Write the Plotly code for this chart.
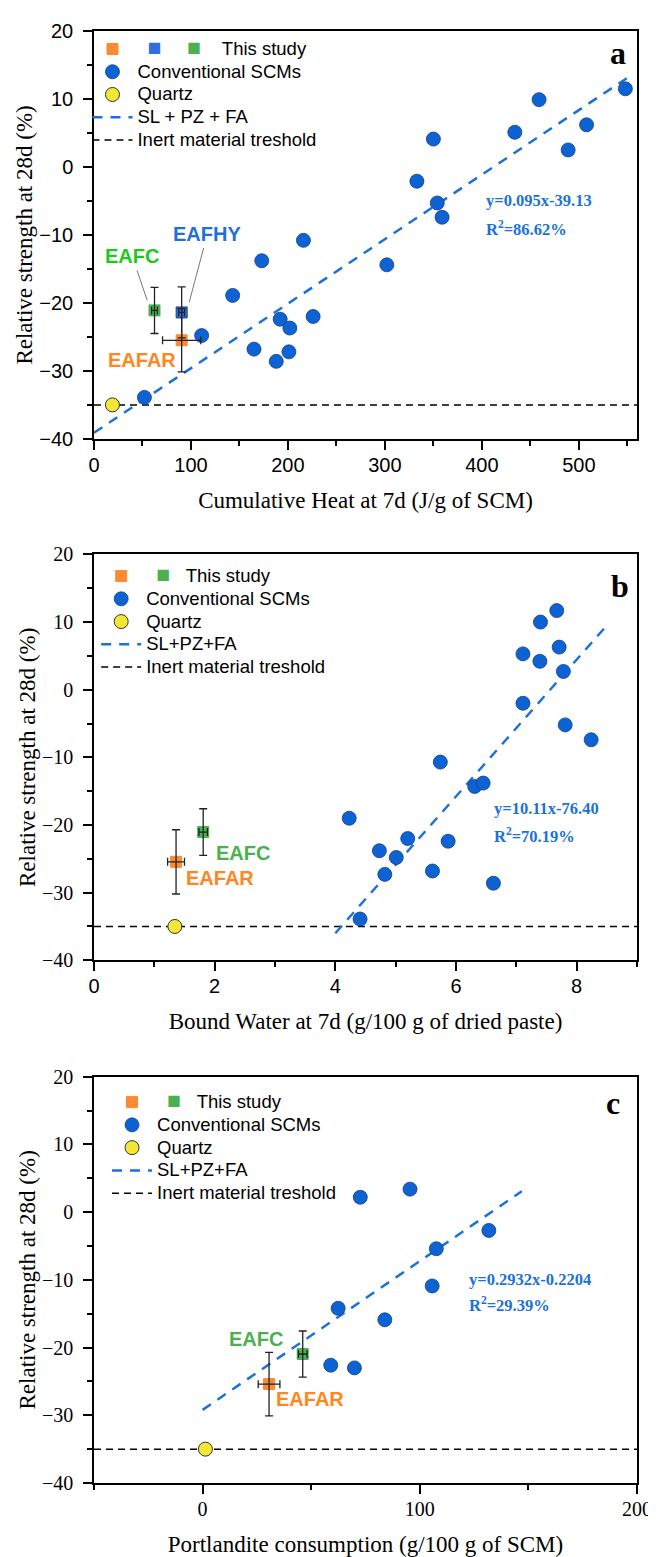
import plotly.graph_objects as go
from plotly.subplots import make_subplots

# ---- panel a : cumulative heat at 7d ----
heat_scm_x = [548, 459, 508, 434, 350, 489, 333, 354, 359, 216, 173, 302, 143, 192, 226, 202, 111, 165, 201, 188, 52]
heat_scm_y = [11.5, 9.9, 6.2, 5.1, 4.1, 2.5, -2.1, -5.3, -7.4, -10.8, -13.8, -14.4, -18.9, -22.4, -22.0, -23.7, -24.8, -26.8, -27.2, -28.6, -33.9]
heat_quartz_x = [19]
heat_quartz_y = [-35.0]
heat_study = ['EAFAR', 'EAFHY', 'EAFC']
heat_study_x = [90.4, 90.4, 62.4]
heat_study_y = [-25.5, -21.4, -21.1]
heat_study_xerr = [19.7, 3.0, 3.0]
heat_study_yerr = [4.65, 3.75, 3.4]
heat_fit_x = [0, 552]
heat_fit_y = [-39.1, 13.3]

# ---- panel b : bound water at 7d ----
water_scm_x = [7.67, 7.40, 7.71, 7.11, 7.39, 7.78, 7.11, 7.81, 8.24, 5.74, 6.31, 6.45,
               4.23, 5.20, 5.87, 4.73, 5.01, 5.61, 4.82, 6.62, 4.41]
water_scm_y = [11.7, 10.0, 6.3, 5.3, 4.2, 2.7, -2.0, -5.2, -7.4, -10.7, -14.3, -13.8,
               -19.0, -22.0, -22.4, -23.8, -24.8, -26.8, -27.3, -28.6, -33.9]
water_quartz_x = [1.34]
water_quartz_y = [-35.0]
water_study = ['EAFAR', 'EAFC']
water_study_x = [1.36, 1.81]
water_study_y = [-25.45, -21.05]
water_study_xerr = [0.14, 0.07]
water_study_yerr = [4.75, 3.45]
water_fit_x = [4.0, 8.5]
water_fit_y = [-36.0, 9.5]

# ---- panel c : portlandite consumption ----
ch_scm_x = [72.6, 95.5, 131.8, 107.6, 105.7, 62.4, 83.9, 59.0, 69.9]
ch_scm_y = [2.2, 3.4, -2.7, -5.4, -10.9, -14.2, -15.9, -22.6, -23.0]
ch_quartz_x = [1.3]
ch_quartz_y = [-35.0]
ch_study = ['EAFAR', 'EAFC']
ch_study_x = [30.6, 46.1]
ch_study_y = [-25.4, -20.95]
ch_study_xerr = [5.0, 2.0]
ch_study_yerr = [4.7, 3.4]
ch_fit_x = [0, 147]
ch_fit_y = [-29.2, 3.1]

inert_y = -35

ORANGE = '#fb8a35'
BLUE_SQ = '#2e6fdc'
GREEN = '#4bb050'
SCM_BLUE = '#0d63d3'
FIT_BLUE = '#1a72d8'
SERIF = 'Liberation Serif'
SANS = 'Liberation Sans'
study_col = {'EAFAR': ORANGE, 'EAFHY': BLUE_SQ, 'EAFC': GREEN}

fig = make_subplots(rows=3, cols=1)

panels = [
    dict(row=1, leg='legend', scm=(heat_scm_x, heat_scm_y), qz=(heat_quartz_x, heat_quartz_y),
         st=(heat_study, heat_study_x, heat_study_y, heat_study_xerr, heat_study_yerr),
         fit=(heat_fit_x, heat_fit_y), xr=[0, 560], fitname='SL + PZ + FA'),
    dict(row=2, leg='legend2', scm=(water_scm_x, water_scm_y), qz=(water_quartz_x, water_quartz_y),
         st=(water_study, water_study_x, water_study_y, water_study_xerr, water_study_yerr),
         fit=(water_fit_x, water_fit_y), xr=[0, 9], fitname='SL+PZ+FA'),
    dict(row=3, leg='legend3', scm=(ch_scm_x, ch_scm_y), qz=(ch_quartz_x, ch_quartz_y),
         st=(ch_study, ch_study_x, ch_study_y, ch_study_xerr, ch_study_yerr),
         fit=(ch_fit_x, ch_fit_y), xr=[-50, 200], fitname='SL+PZ+FA'),
]


def big(t):
    # legend text drawn larger than the row spacing font
    return "<span style='font-size:18.5px'>%s</span>" % t


def sq(c):
    return "<span style='color:%s;font-size:23px'>■</span>" % c


sp = '\u00a0'
for p in panels:
    r, leg = p['row'], p['leg']
    names, sx, sy, sxe, sye = p['st']
    # threshold + fit lines underneath
    fig.add_trace(go.Scatter(x=p['xr'], y=[inert_y, inert_y], mode='lines', name=big('Inert material treshold'),
                             line=dict(color='black', width=1.5, dash='7px,5px'),
                             legend=leg, legendrank=5), row=r, col=1)
    fig.add_trace(go.Scatter(x=p['fit'][0], y=p['fit'][1], mode='lines', name=big(p['fitname']),
                             line=dict(color=FIT_BLUE, width=2.5, dash='10px,8px'),
                             legend=leg, legendrank=4), row=r, col=1)
    fig.add_trace(go.Scatter(x=p['scm'][0], y=p['scm'][1], mode='markers', name=big('Conventional SCMs'),
                             marker=dict(color=SCM_BLUE, size=14, line=dict(color='#123f86', width=0.8)),
                             legend=leg, legendrank=2), row=r, col=1)
    fig.add_trace(go.Scatter(x=p['qz'][0], y=p['qz'][1], mode='markers', name=big('Quartz'),
                             marker=dict(color='#f4e634', size=14, line=dict(color='#333333', width=1)),
                             legend=leg, legendrank=3), row=r, col=1)
    # this study squares
    if r == 1:
        label = big(sp * 2) + sq(BLUE_SQ) + big(sp * 5) + sq(GREEN) + big(sp * 4 + 'This study')
    else:
        label = big(sp * 2) + sq(GREEN) + big(sp * 3 + 'This study')
    for i, n in enumerate(names):
        fig.add_trace(go.Scatter(x=[sx[i]], y=[sy[i]], mode='markers', name=label,
                                 marker=dict(symbol='square', size=11, color=study_col[n],
                                             line=dict(color='#1b3f8a' if n == 'EAFHY' else study_col[n], width=1)),
                                 showlegend=(n == 'EAFAR'), legend=leg, legendrank=1), row=r, col=1)
    # error bars on top of the squares
    fig.add_trace(go.Scatter(x=sx, y=sy, mode='markers', marker=dict(opacity=0, size=2),
                             error_x=dict(type='data', array=sxe, color='#222222', thickness=1.3, width=4),
                             error_y=dict(type='data', array=sye, color='#222222', thickness=1.3, width=4),
                             showlegend=False, hoverinfo='skip'), row=r, col=1)

# layout of the three panels
doms = [[0.7191, 1.0], [0.3600, 0.6395], [0.0, 0.2798]]
xtitles = ['Cumulative Heat at 7d (J/g of SCM)', 'Bound Water at 7d (g/100 g of dried paste)',
           'Portlandite consumption (g/100 g of SCM)']
xdt = [(100, 50), (2, 1), (100, 50)]
xfonts = [SANS, SANS, SERIF]
yfonts = [SANS, SERIF, SERIF]
for i in range(3):
    fig.update_xaxes(range=panels[i]['xr'], tickmode='linear', dtick=xdt[i][0], tick0=0,
                     minor=dict(dtick=xdt[i][1], ticks='outside', ticklen=5, tickcolor='black', tickwidth=1.5),
                     ticks='outside', ticklen=9, tickwidth=1.5, tickcolor='black',
                     showline=True, linecolor='black', linewidth=1.5, mirror=True,
                     showgrid=False, zeroline=False, ticklabelstandoff=-2,
                     tickfont=dict(family=xfonts[i], size=20, color='black'),
                     title=dict(text=xtitles[i], font=dict(family=SERIF, size=23, color='black'), standoff=17),
                     row=i + 1, col=1)
    fig.update_yaxes(range=[-40, 20], tickmode='linear', dtick=10, tick0=0,
                     minor=dict(dtick=5, ticks='outside', ticklen=5, tickcolor='black', tickwidth=1.5),
                     ticks='outside', ticklen=9, tickwidth=1.5, tickcolor='black',
                     showline=True, linecolor='black', linewidth=1.5, mirror=True,
                     showgrid=False, zeroline=False, ticklabelstandoff=6, domain=doms[i],
                     tickfont=dict(family=yfonts[i], size=20, color='black'),
                     title=dict(text='Relative strength at 28d (%)', font=dict(family=SERIF, size=23, color='black'),
                                standoff=0),
                     row=i + 1, col=1)

# annotations
def lab(text, x, y, color, xref, yref, ax=None, ay=None, size=20):
    d = dict(text='<b>%s</b>' % text, x=x, y=y, xref=xref, yref=yref, showarrow=False,
             font=dict(family=SANS, size=size, color=color))
    if ax is not None:
        d.update(showarrow=True, ax=ax, ay=ay, axref=xref, ayref=yref, arrowhead=0,
                 arrowwidth=1, arrowcolor='#777777', standoff=0, startstandoff=2)
    fig.add_annotation(**d)

lab('EAFC', 54.8, -19.6, '#1ec81e', 'x', 'y', 39.3, -13.1)
lab('EAFHY', 98.2, -19.9, '#1f70d8', 'x', 'y', 117.0, -9.8)
lab('EAFAR', 49.4, -28.4, '#ff8621', 'x', 'y')
lab('EAFC', 2.47, -24.1, GREEN, 'x2', 'y2')
lab('EAFAR', 2.09, -27.8, '#ff8621', 'x2', 'y2')
lab('EAFC', 24.7, -18.7, GREEN, 'x3', 'y3')
lab('EAFAR', 49.4, -27.6, '#ff8621', 'x3', 'y3')

eqs = [('y=0.095x-39.13', 'R<sup>2</sup>=86.62%', 402.7, -5.0, -9.0, 'x', 'y'),
       ('y=10.11x-76.40', 'R<sup>2</sup>=70.19%', 6.60, -17.6, -21.5, 'x2', 'y2'),
       ('y=0.2932x-0.2204', 'R<sup>2</sup>=29.39%', 121.6, -9.9, -13.7, 'x3', 'y3')]
for e1, e2, ex, ey1, ey2, xr, yr in eqs:
    for t, yy in ((e1, ey1), (e2, ey2)):
        fig.add_annotation(text='<b>%s</b>' % t, x=ex, y=yy, xref=xr, yref=yr, xanchor='left', showarrow=False,
                           font=dict(family=SERIF, size=16.5, color=FIT_BLUE))

letters = [('a', 0.984, 0.995, 'x domain', 'y domain'), ('b', 0.9895, 0.971, 'x2 domain', 'y2 domain'),
           ('c', 0.973, 0.985, 'x3 domain', 'y3 domain')]
for t, lx, ly, xr, yr in letters:
    fig.add_annotation(text='<b>%s</b>' % t, x=lx, y=ly, xref=xr, yref=yr, showarrow=False,
                       font=dict(family=SERIF, size=32, color='black'))

legfont = dict(family=SANS, size=15.2, color='black')
legcommon = dict(font=legfont, bgcolor='rgba(0,0,0,0)', xanchor='left', yanchor='top',
                 itemsizing='trace', itemwidth=40, tracegroupgap=0)
fig.update_layout(
    width=656, height=1557, template='plotly_white', plot_bgcolor='white', paper_bgcolor='white',
    margin=dict(l=86, r=18, t=20, b=75),
    legend=dict(x=-0.012, y=0.9989, **legcommon),
    legend2=dict(x=0.004, y=0.6359, **legcommon),
    legend3=dict(x=0.024, y=0.2736, **legcommon),
)

fig.write_html('out.html')
